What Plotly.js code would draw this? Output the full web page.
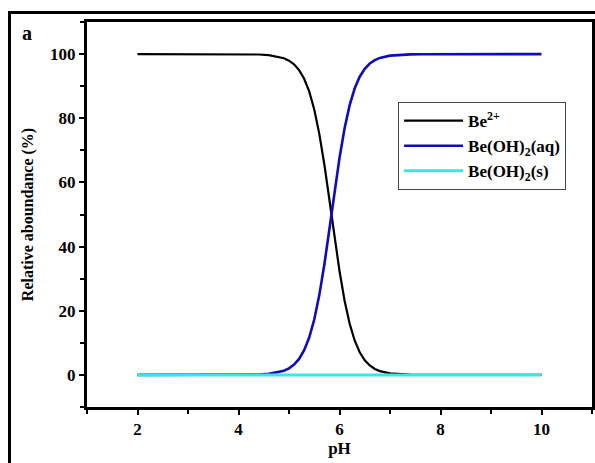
<!DOCTYPE html>
<html>
<head>
<meta charset="utf-8">
<script src="https://cdn.plot.ly/plotly-3.0.1.min.js"></script>
<style>
  html, body { margin: 0; padding: 0; width: 595px; height: 463px; overflow: hidden; background: #fff; }
  #chart { position: absolute; left: 0; top: 0; width: 595px; height: 463px; }
  #frame { position: absolute; left: 8px; top: 11px; width: 700px; height: 600px;
           border-left: 3px solid #000; border-top: 3px solid #000; pointer-events: none; }
</style>
</head>
<body>
<div id="chart"></div>
<div id="frame"></div>
<script>
// pH sample points (x)
const pH = [2, 3, 4, 4.2, 4.4, 4.6, 4.8, 4.9, 5.0, 5.1, 5.2, 5.3, 5.4, 5.5, 5.6, 5.7, 5.8, 5.9,
            6.0, 6.1, 6.2, 6.3, 6.4, 6.5, 6.6, 6.7, 6.8, 7.0, 7.2, 7.4, 7.6, 8, 9, 10];
// Be2+ relative abundance (%)
const beIon = [100, 100, 99.98, 99.95, 99.87, 99.67, 99.17, 98.70, 97.95, 96.80, 95.01, 92.32, 88.35,
               82.72, 75.13, 65.58, 54.59, 43.14, 32.37, 23.20, 16.01, 10.73, 7.05, 4.57, 2.93, 1.87,
               1.19, 0.48, 0.19, 0.08, 0.03, 0, 0, 0];
// Be(OH)2(aq) relative abundance (%)
const beOHaq = [0, 0, 0.02, 0.05, 0.13, 0.33, 0.83, 1.30, 2.05, 3.20, 4.99, 7.68, 11.65,
                17.28, 24.87, 34.42, 45.41, 56.86, 67.63, 76.80, 83.99, 89.27, 92.95, 95.43, 97.07, 98.13,
                98.81, 99.52, 99.81, 99.92, 99.97, 100, 100, 100];
// Be(OH)2(s) relative abundance (%)
const pHs = [2, 10];
const beOHs = [0, 0];

const seriesNames = ['Be<sup>2+</sup>', 'Be(OH)<sub>2</sub>(aq)', 'Be(OH)<sub>2</sub>(s)'];
const xTicks = [2, 4, 6, 8, 10];
const yTicks = [0, 20, 40, 60, 80, 100];

const serif = 'Liberation Serif, Times New Roman, serif';

const traces = [
  { x: pH, y: beIon, name: seriesNames[0], mode: 'lines', line: { color: '#000000', width: 2.2 } },
  { x: pH, y: beOHaq, name: seriesNames[1], mode: 'lines', line: { color: '#0f0cb8', width: 2.6 } },
  { x: pHs, y: beOHs, name: seriesNames[2], mode: 'lines', line: { color: '#3fe3e3', width: 3 } }
];

const axisCommon = {
  showline: true, linewidth: 3, linecolor: '#000', mirror: true,
  ticks: 'outside', ticklen: 5, tickwidth: 2, tickcolor: '#000',
  showgrid: false, zeroline: false,
  tickfont: { family: serif, size: 17, color: '#000', weight: 700 }
};

const layout = {
  width: 595, height: 463,
  margin: { l: 87, r: 3, t: 22, b: 56 },
  paper_bgcolor: '#fff', plot_bgcolor: '#fff',
  showlegend: true,
  xaxis: Object.assign({}, axisCommon, {
    range: [1, 11], tickvals: xTicks, ticktext: xTicks.map(String),
    minor: { dtick: 1, tick0: 1, ticks: 'outside', ticklen: 4, tickwidth: 2, tickcolor: '#000' },
    title: { text: 'pH', font: { family: serif, size: 17, color: '#000', weight: 700 }, standoff: 4 }
  }),
  yaxis: Object.assign({}, axisCommon, {
    range: [-10, 110], tickvals: yTicks, ticktext: yTicks.map(String),
    minor: { dtick: 10, tick0: -10, ticks: 'outside', ticklen: 4, tickwidth: 2, tickcolor: '#000' },
    title: { text: 'Relative aboundance (%)', font: { family: serif, size: 16, color: '#000', weight: 700 }, standoff: 13 }
  }),
  legend: {
    x: 0.616, y: 0.792, xanchor: 'left', yanchor: 'top',
    bgcolor: '#fff', bordercolor: '#444', borderwidth: 1,
    font: { family: serif, size: 17, color: '#000', weight: 700 },
    itemwidth: 59,
    entrywidth: 194, entrywidthmode: 'pixels',
    tracegroupgap: 0
  },
  annotations: [
    { text: 'a', xref: 'paper', yref: 'paper', x: -0.133, y: 1.005, xanchor: 'left', yanchor: 'top',
      showarrow: false, font: { family: serif, size: 20, color: '#000', weight: 700 } }
  ]
};

Plotly.newPlot('chart', traces, layout, { staticPlot: true, displayModeBar: false });
</script>
</body>
</html>
